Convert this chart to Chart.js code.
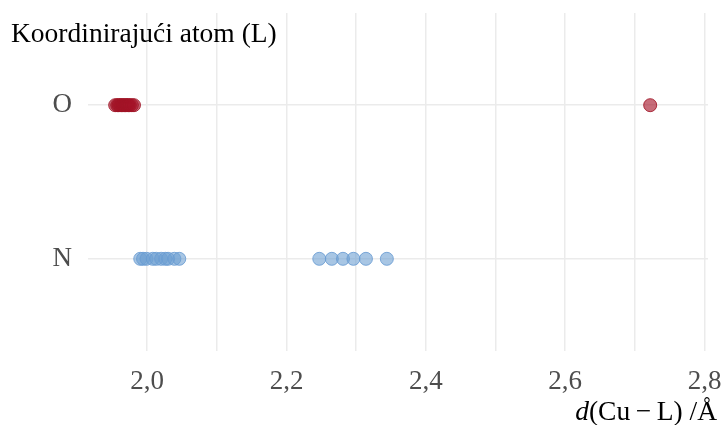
<!DOCTYPE html>
<html>
<head>
<meta charset="utf-8">
<script src="https://cdn.jsdelivr.net/npm/chart.js@4"></script>
<style>
  html, body { margin: 0; padding: 0; background: #fff; }
  #wrap { width: 723px; height: 425px; }
</style>
</head>
<body>
<div id="wrap"><canvas id="chart"></canvas></div>
<script>
// values, Å
const atoms = ["N", "O"];
const oDistances = [1.954, 1.957, 1.959, 1.961, 1.963, 1.965, 1.967, 1.969, 1.971, 1.973, 1.975, 1.978, 1.981, 2.722];
const nDistances = [1.990, 1.994, 1.999, 2.008, 2.013, 2.020, 2.026, 2.030, 2.039, 2.046,
                    2.247, 2.265, 2.281, 2.296, 2.314, 2.344];
const xTicks = ["2,0", "2,2", "2,4", "2,6", "2,8"];

const serif = "'Liberation Serif', 'DejaVu Serif', serif";

// titles drawn on top, like the ggplot version
const titles = {
  id: "titles",
  afterDraw(chart) {
    const ctx = chart.ctx;
    ctx.save();
    ctx.fillStyle = "#000";
    ctx.textBaseline = "alphabetic";
    ctx.font = "27.5px " + serif;
    ctx.textAlign = "left";
    ctx.fillText("Koordinirajući atom (L)", 11, 41.5);

    // x title, italic d, spaced minus
    const y = 420;
    const right = 717;
    ctx.font = "27.5px " + serif;
    const rest = "(Cu\u2009\u2212\u2009L) /Å";
    const wRest = ctx.measureText(rest).width;
    ctx.font = "italic 27.5px " + serif;
    const wD = ctx.measureText("d").width;
    const x0 = right - wRest - wD;
    ctx.fillText("d", x0, y);
    ctx.font = "27.5px " + serif;
    ctx.fillText(rest, x0 + wD, y);
    ctx.restore();
  }
};

new Chart(document.getElementById("chart"), {
  type: "scatter",
  data: {
    datasets: [
      {
        label: "O",
        data: oDistances.map(d => ({ x: d, y: 2 })),
        backgroundColor: "rgba(165, 20, 40, 0.62)",
        borderColor: "rgba(160, 20, 38, 0.85)",
        borderWidth: 1,
        pointRadius: 6.5
      },
      {
        label: "N",
        data: nDistances.map(d => ({ x: d, y: 1 })),
        backgroundColor: "rgba(110, 160, 210, 0.6)",
        borderColor: "rgba(105, 155, 210, 0.85)",
        borderWidth: 1,
        pointRadius: 6.5
      }
    ]
  },
  options: {
    responsive: true,
    maintainAspectRatio: false,
    animation: false,
    layout: { padding: { top: 13, right: 15, left: 0, bottom: 0 } },
    plugins: {
      legend: { display: false },
      tooltip: { enabled: false }
    },
    scales: {
      x: {
        type: "linear",
        min: 1.915,
        max: 2.805,
        border: { display: false },
        afterBuildTicks(scale) {
          const t = [];
          for (let i = 20; i <= 28; i++) t.push({ value: i / 10 });
          scale.ticks = t;
        },
        grid: { color: "#ebebeb", lineWidth: 1.5, drawTicks: false },
        ticks: {
          autoSkip: false,
          maxRotation: 0,
          padding: 15,
          color: "#4d4d4d",
          font: { family: serif, size: 27 },
          callback: function (v) {
            const i = Math.round(v * 10) - 20;
            return i % 2 === 0 ? xTicks[i / 2] : "";
          }
        },
        afterFit(scale) {
          scale.height = 74;
          scale.paddingLeft = 0;
          scale.paddingRight = 0;
        }
      },
      y: {
        type: "linear",
        min: 0.4,
        max: 2.6,
        border: { display: false },
        afterBuildTicks(scale) {
          scale.ticks = [{ value: 1 }, { value: 2 }];
        },
        grid: { color: "#ebebeb", lineWidth: 1.5, drawTicks: false },
        ticks: {
          padding: 16,
          color: "#4d4d4d",
          font: { family: serif, size: 27 },
          callback: v => atoms[v - 1]
        },
        afterFit(scale) {
          scale.width = 88;
          scale.paddingTop = 0;
          scale.paddingBottom = 0;
        }
      }
    }
  },
  plugins: [titles]
});
</script>
</body>
</html>
